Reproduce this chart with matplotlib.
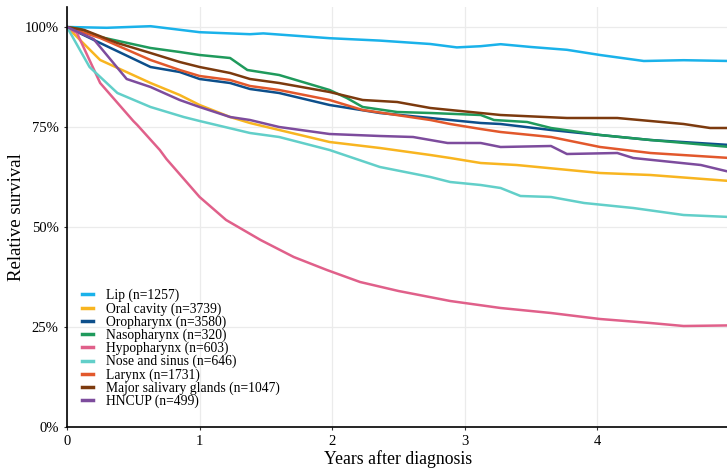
import matplotlib.pyplot as plt
from matplotlib.ticker import FuncFormatter

plt.rcParams['font.family'] = ['Liberation Serif', 'DejaVu Serif']

labels = ['Lip (n=1257)', 'Oral cavity (n=3739)', 'Oropharynx (n=3580)',
          'Nasopharynx (n=320)', 'Hypopharynx (n=603)', 'Nose and sinus (n=646)',
          'Larynx (n=1731)', 'Major salivary glands (n=1047)', 'HNCUP (n=499)']
colors = ['#1ab2ea', '#f8b520', '#0d4f8b', '#1f9a5c', '#e0608a',
          '#62cfc9', '#e2582c', '#7c3a0e', '#7d4c9d']

# years after diagnosis, relative survival (%)
lip_x = [0, 0.3, 0.63, 1.0, 1.38, 1.48, 1.98, 2.36, 2.74, 2.94, 3.12, 3.27, 3.5, 3.77, 4.02, 4.35, 4.65, 5.0]
lip_y = [100, 99.8, 100.2, 98.7, 98.2, 98.4, 97.2, 96.6, 95.75, 94.9, 95.2, 95.7, 95.0, 94.3, 93.0, 91.5, 91.7, 91.5]

oral_x = [0, 0.25, 0.63, 0.85, 1.0, 1.23, 1.38, 1.6, 1.98, 2.36, 2.74, 2.89, 3.12, 3.39, 4.02, 4.4, 5.0]
oral_y = [100, 91.75, 86, 83.0, 80.5, 77.5, 76, 74.25, 71.25, 69.75, 68, 67.25, 66, 65.5, 63.5, 63, 61.5]

oro_x = [0, 0.25, 0.63, 0.85, 1.0, 1.23, 1.38, 1.6, 1.98, 2.36, 2.74, 2.89, 3.12, 3.27, 3.65, 4.02, 4.4, 5.0]
oro_y = [100, 96, 90, 88.75, 87.0, 86, 84.5, 83.5, 80.5, 78.5, 77.25, 76.75, 76, 75.75, 74.25, 73, 71.75, 70.5]

naso_x = [0, 0.1, 0.25, 0.63, 0.85, 1.0, 1.23, 1.36, 1.6, 1.98, 2.11, 2.23, 2.49, 2.74, 3.12, 3.22, 3.47, 3.65, 4.02, 4.4, 5.0]
naso_y = [100, 99.5, 97.5, 94.75, 93.75, 93, 92.25, 89.25, 88, 84.25, 82.25, 80, 78.75, 78.5, 78, 76.75, 76.25, 74.75, 73, 71.75, 70]

hypo_x = [0, 0.075, 0.25, 0.5, 0.53, 0.7, 0.75, 1.0, 1.2, 1.46, 1.71, 1.96, 2.21, 2.5, 2.89, 3.27, 3.65, 4.02, 4.4, 4.65, 5.0]
hypo_y = [100, 98.5, 86, 76.5, 75.5, 69.25, 67, 57.5, 51.75, 46.75, 42.5, 39.25, 36.25, 34, 31.5, 29.75, 28.5, 27, 26, 25.25, 25.4]

nose_x = [0, 0.17, 0.38, 0.63, 0.88, 1.0, 1.38, 1.6, 1.98, 2.36, 2.74, 2.89, 3.12, 3.27, 3.42, 3.65, 3.9, 4.27, 4.65, 5.0]
nose_y = [100, 90, 83.5, 80, 77.5, 76.5, 73.5, 72.5, 69.25, 65, 62.5, 61.25, 60.5, 59.75, 57.75, 57.5, 56, 54.75, 53, 52.5]

lar_x = [0, 0.25, 0.63, 0.85, 1.0, 1.23, 1.38, 1.6, 1.98, 2.23, 2.74, 2.89, 3.12, 3.27, 3.65, 4.02, 4.4, 5.0]
lar_y = [100, 97.25, 91.75, 89.25, 87.75, 86.75, 85.25, 84.25, 81.75, 79.25, 76.75, 75.75, 74.5, 73.75, 72.5, 70, 68.5, 67.25]

sal_x = [0, 0.13, 0.38, 0.63, 0.85, 1.0, 1.23, 1.38, 1.6, 1.98, 2.23, 2.49, 2.74, 2.89, 3.12, 3.27, 3.77, 4.15, 4.65, 4.85, 5.0]
sal_y = [100, 99.25, 96, 93.5, 91.25, 90, 88.5, 87.0, 86, 83.75, 81.75, 81.25, 79.75, 79.25, 78.5, 78, 77.25, 77.25, 75.75, 74.75, 74.75]

hncup_x = [0, 0.2, 0.45, 0.63, 0.85, 1.0, 1.23, 1.38, 1.6, 1.98, 2.36, 2.61, 2.87, 3.12, 3.27, 3.65, 3.77, 4.15, 4.27, 4.78, 5.0]
hncup_y = [100, 97, 87, 85, 81.75, 80, 77.5, 76.75, 75, 73.25, 72.75, 72.5, 71, 71, 70, 70.25, 68.25, 68.5, 67.25, 65.5, 63.75]

series = [(lip_x, lip_y), (oral_x, oral_y), (oro_x, oro_y), (naso_x, naso_y),
          (hypo_x, hypo_y), (nose_x, nose_y), (lar_x, lar_y), (sal_x, sal_y),
          (hncup_x, hncup_y)]

fig = plt.figure(figsize=(7.27, 4.69), dpi=100)
ax = fig.add_axes([67 / 727, 42 / 469, 663 / 727, 420 / 469])

for (xs, ys), lab, c in zip(series, labels, colors):
    ax.plot(xs, ys, color=c, lw=1.8, label=lab)

ax.set_xlim(0, 5)
ax.set_ylim(0, 105)
ax.set_xticks([0, 1, 2, 3, 4, 5])
ax.set_yticks([0, 25, 50, 75, 100])
ax.yaxis.set_major_formatter(FuncFormatter(lambda v, p: f'{int(v)}%'))
ax.grid(color='#ebebeb', lw=0.9)
ax.set_axisbelow(True)
for s in ['top', 'right']:
    ax.spines[s].set_visible(False)
for s in ['left', 'bottom']:
    ax.spines[s].set_linewidth(1.2)
ax.tick_params(labelsize=10.5, length=2.5, width=0.8, colors='#333333', labelcolor='black')

ax.set_xlabel('Years after diagnosis', fontsize=12.8, labelpad=1)
ax.set_ylabel('Relative survival', fontsize=13.5, labelpad=0)

leg = ax.legend(loc='lower left', bbox_to_anchor=(0.015, 0.032), frameon=False,
                fontsize=9.8, handlelength=0.75, handletextpad=1.0,
                labelspacing=-0.02, borderaxespad=0)
for h in leg.get_lines():
    h.set_linewidth(2.5)

fig.savefig('out.png', dpi=100)
